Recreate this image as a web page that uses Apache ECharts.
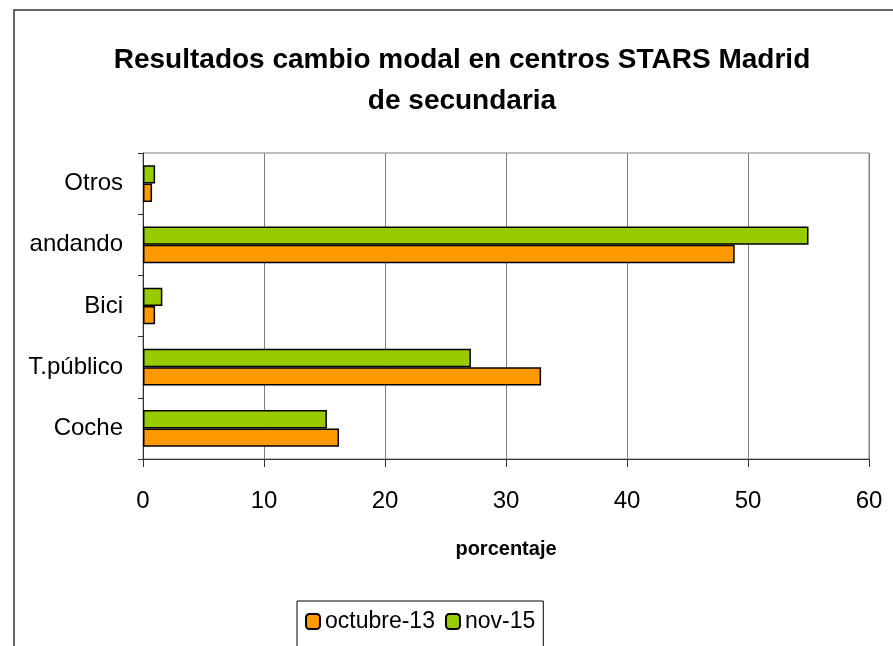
<!DOCTYPE html>
<html>
<head>
<meta charset="utf-8">
<script src="https://cdn.jsdelivr.net/npm/echarts@6/dist/echarts.min.js"></script>
<style>
  html, body { margin: 0; padding: 0; background: #fff; }
  #main { width: 893px; height: 646px; }
</style>
</head>
<body>
<div id="main"></div>
<script>
var categories = ['Coche', 'T.público', 'Bici', 'andando', 'Otros'];
var seriesNames = ['octubre-13', 'nov-15'];
var octubre13 = [16.2, 32.9, 1.0, 48.9, 0.75];
var nov15 = [15.2, 27.1, 1.6, 55.0, 1.0];
var xTicks = [0, 10, 20, 30, 40, 50, 60];

var font = "'Liberation Sans', Arial, sans-serif";

var chart = echarts.init(document.getElementById('main'));
var option = {
    backgroundColor: '#fff',
    animation: false,
    textStyle: { fontFamily: font },
    title: {
        text: 'Resultados cambio modal en centros STARS Madrid\nde secundaria',
        left: 457,
        top: 35,
        textAlign: 'center',
        textStyle: {
            fontFamily: font,
            fontSize: 28,
            fontWeight: 'bold',
            color: '#000',
            lineHeight: 41
        }
    },
    graphic: [
        {
            type: 'rect',
            shape: { x: 14, y: 10, width: 900, height: 700 },
            style: { fill: 'none', stroke: '#333', lineWidth: 1.5 },
            silent: true
        }
    ],
    legend: {
        left: 297,
        top: 601,
        data: seriesNames,
        itemWidth: 14,
        itemHeight: 15,
        itemGap: 10,
        padding: [9, 8, 30, 8],
        borderColor: '#000',
        borderWidth: 1,
        textStyle: { fontFamily: font, fontSize: 23, color: '#000' }
    },
    grid: {
        left: 143,
        top: 153,
        right: 24,
        bottom: 187,
        show: true,
        borderColor: '#808080',
        borderWidth: 1
    },
    xAxis: {
        type: 'value',
        min: xTicks[0],
        max: xTicks[xTicks.length - 1],
        interval: 10,
        name: 'porcentaje',
        nameLocation: 'middle',
        nameGap: 80,
        nameTextStyle: { fontFamily: font, fontSize: 20, fontWeight: 'bold', color: '#000' },
        axisLine: { show: true, lineStyle: { color: '#333', width: 1 } },
        axisTick: { show: true, length: 8, lineStyle: { color: '#333' } },
        axisLabel: { margin: 30, fontFamily: font, fontSize: 24, color: '#000' },
        splitLine: { show: true, lineStyle: { color: '#808080', width: 1 } }
    },
    yAxis: {
        type: 'category',
        data: categories,
        axisLine: { show: true, lineStyle: { color: '#333', width: 1 } },
        axisTick: { show: true, length: 5, lineStyle: { color: '#333' } },
        axisLabel: { margin: 20, fontFamily: font, fontSize: 24, color: '#000' },
        splitLine: { show: false }
    },
    series: [
        {
            name: seriesNames[1],
            type: 'bar',
            data: nov15,
            barGap: '0%',
            barCategoryGap: '40%',
            itemStyle: { color: '#99CC00', borderColor: '#000', borderWidth: 1.5 }
        },
        {
            name: seriesNames[0],
            type: 'bar',
            data: octubre13,
            barGap: '0%',
            barCategoryGap: '40%',
            itemStyle: { color: '#FF9900', borderColor: '#000', borderWidth: 1.5 }
        }
    ]
};
chart.setOption(option);
</script>
</body>
</html>
